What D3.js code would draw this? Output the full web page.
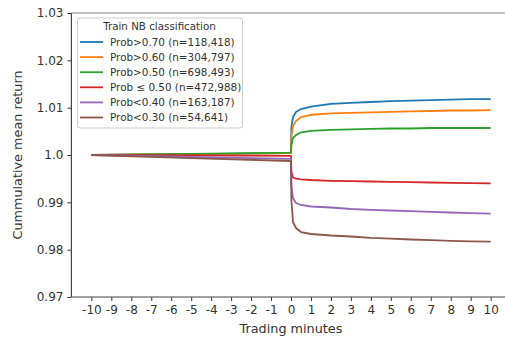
<!DOCTYPE html>
<html><head><meta charset="utf-8">
<script src="https://cdn.jsdelivr.net/npm/d3@7"></script>
<style>body{margin:0;background:#fff}svg{display:block;font-family:"DejaVu Sans",sans-serif}</style>
</head><body><svg id="c" width="505" height="340"></svg>
<script>
const times = [-10, -5, 0, 0.02, 0.1, 0.25, 0.5, 1, 2, 3, 4, 5, 6, 7, 8, 9, 10];
const seriesNames = ["Prob>0.70 (n=118,418)","Prob>0.60 (n=304,797)","Prob>0.50 (n=698,493)","Prob \u2264 0.50 (n=472,988)","Prob<0.40 (n=163,187)","Prob<0.30 (n=54,641)"];
const colors = ["#1f77b4","#ff7f0e","#2ca02c","#d62728","#9467bd","#8c564b"];
const prob70 = [1.0, 1.0002, 1.0004, 1.0059, 1.0080, 1.0091, 1.0097, 1.0102, 1.0108, 1.0110, 1.0112, 1.0114, 1.0115, 1.0116, 1.0117, 1.0118, 1.0118];
const prob60 = [1.0, 1.0002, 1.0004, 1.0040, 1.0061, 1.0072, 1.0080, 1.0085, 1.0088, 1.0089, 1.0090, 1.0091, 1.0092, 1.0093, 1.0094, 1.0094, 1.0095];
const prob50 = [1.0, 1.00025, 1.0005, 1.0021, 1.0036, 1.0042, 1.0048, 1.0051, 1.0053, 1.0054, 1.0055, 1.0056, 1.0056, 1.0057, 1.0057, 1.0057, 1.0057];
const probLe50 = [1.0, 0.9999, 0.9998, 0.9964, 0.99525, 0.99503, 0.99487, 0.99472, 0.99455, 0.99446, 0.9944, 0.99434, 0.99425, 0.99419, 0.99413, 0.99406, 0.99402];
const prob40 = [1.0, 0.9996, 0.9992, 0.99366, 0.99091, 0.98986, 0.98944, 0.98912, 0.98891, 0.98859, 0.98842, 0.98827, 0.98813, 0.988, 0.98785, 0.98772, 0.9876];
const prob30 = [1.0, 0.99935, 0.99873, 0.99049, 0.98584, 0.98458, 0.98373, 0.98331, 0.98299, 0.98278, 0.9825, 0.98232, 0.98215, 0.982, 0.98187, 0.98177, 0.98168];
const seriesValues = [prob70, prob60, prob50, probLe50, prob40, prob30];
const xTicks = d3.range(-10, 11);
const yTicks = [0.97, 0.98, 0.99, 1.0, 1.01, 1.02, 1.03];
const yTickLabels = ["0.97","0.98","0.99","1.0","1.01","1.02","1.03"];
const legendTitle = "Train NB classification";

const svg = d3.select("#c");
const L = 71.4, R = 510.6, T = 13, B = 297;
const x = d3.scaleLinear().domain([-11, 11]).range([L, R]);
const y = d3.scaleLinear().domain([0.97, 1.03]).range([B, T]);

const tc = "#333";
const xa = svg.append("g").attr("transform", `translate(0,${B})`)
  .call(d3.axisBottom(x).tickValues(xTicks).tickFormat(d => String(d)).tickSize(4).tickPadding(4).tickSizeOuter(0));
const ya = svg.append("g").attr("transform", `translate(${L},0)`)
  .call(d3.axisLeft(y).tickValues(yTicks).tickFormat(d => yTickLabels[yTicks.indexOf(d)]).tickSize(4).tickPadding(4).tickSizeOuter(0));
[xa, ya].forEach(g => {
  g.select(".domain").remove();
  g.selectAll("line").attr("stroke", tc).attr("stroke-width", 1);
  g.selectAll("text").attr("fill", tc).attr("font-size", 12).attr("font-family", "DejaVu Sans");
});
svg.append("line").attr("x1", L).attr("x2", L).attr("y1", T).attr("y2", B).attr("stroke", "#444").attr("stroke-width", 1.2);
svg.append("line").attr("x1", L).attr("x2", R).attr("y1", B).attr("y2", B).attr("stroke", "#444").attr("stroke-width", 1.2);
svg.append("line").attr("x1", L).attr("x2", R).attr("y1", T).attr("y2", T).attr("stroke", "#888").attr("stroke-width", 1.2);

const line = d3.line().x((d, i) => x(times[i])).y(d => y(d));
seriesValues.forEach((vals, k) => {
  svg.append("path").datum(vals).attr("d", line).attr("fill", "none")
    .attr("stroke", colors[k]).attr("stroke-width", 1.8).attr("stroke-linejoin", "round");
});

svg.append("text").attr("x", (x(-10) + x(10)) / 2).attr("y", 333).attr("text-anchor", "middle")
  .attr("font-size", 12.8).attr("fill", tc).text("Trading minutes");
svg.append("text").attr("transform", `translate(22,${(T + B) / 2}) rotate(-90)`).attr("text-anchor", "middle")
  .attr("font-size", 12.8).attr("fill", tc).text("Cummulative mean return");

const lg = svg.append("g");
lg.append("rect").attr("x", 77.5).attr("y", 18).attr("width", 165).attr("height", 110).attr("rx", 2.5)
  .attr("fill", "#fff").attr("fill-opacity", 0.85).attr("stroke", "#ccc").attr("stroke-width", 1);
lg.append("text").attr("x", 159.5).attr("y", 30).attr("text-anchor", "middle").attr("font-size", 10.3).attr("fill", tc).text(legendTitle);
seriesNames.forEach((n, k) => {
  const yy = 42 + k * 15.1;
  lg.append("line").attr("x1", 80).attr("x2", 103).attr("y1", yy).attr("y2", yy).attr("stroke", colors[k]).attr("stroke-width", 1.8);
  lg.append("text").attr("x", 110).attr("y", yy + 3.7).attr("font-size", 10.4).attr("fill", tc).text(n);
});
</script></body></html>
